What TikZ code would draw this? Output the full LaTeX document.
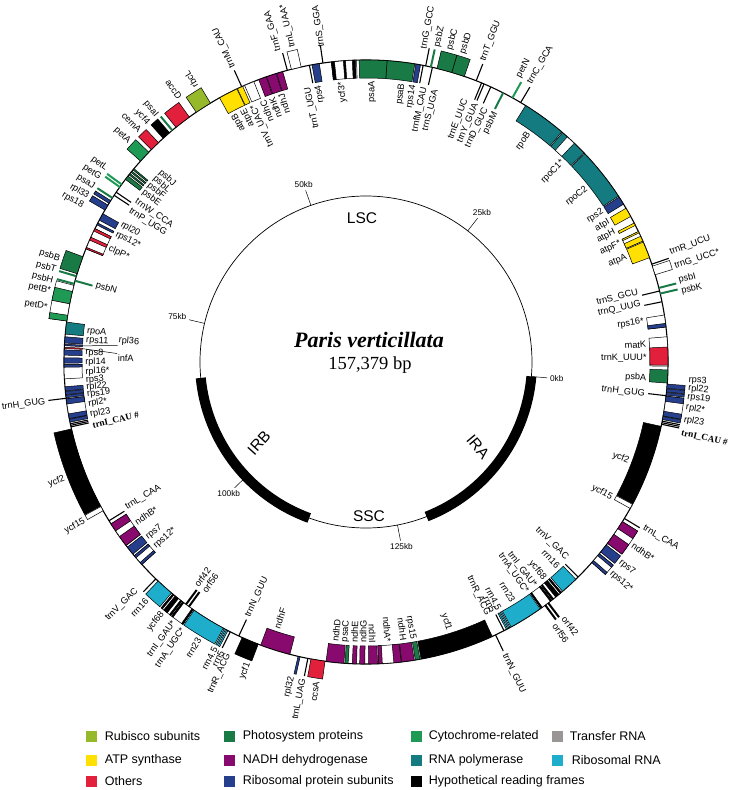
\documentclass[tikz,border=0pt]{standalone}
\usepackage{fontspec}
\setmainfont{Liberation Sans}
\newfontfamily\serifname{Liberation Serif}
\usepackage{tikz}
\usetikzlibrary{positioning}
\definecolor{rubisco}{HTML}{95B92A}
\definecolor{photosys}{HTML}{1A7A46}
\definecolor{cytochr}{HTML}{1E9A55}
\definecolor{trnagray}{HTML}{9A9696}
\definecolor{atpyel}{HTML}{FFE000}
\definecolor{ndhpurp}{HTML}{880A6E}
\definecolor{rpoteal}{HTML}{147B80}
\definecolor{rrncyan}{HTML}{1EADCB}
\definecolor{othred}{HTML}{E2203B}
\definecolor{ribblue}{HTML}{263F8C}

% ring geometry (pt, centre of the map at the origin)
\newcommand{\Rring}{302}
\newcommand{\Rbox}{18}
\newcommand{\IRc}{180.5}
\newcommand{\flipat}{123}
\newcommand{\lgap}{2.5}
\newcounter{glab}

% gene box: start angle, end angle, side (o/i), fill
\newcommand{\gbox}[4]{%
  \if#3o\pgfmathsetmacro{\rb}{\Rring+\Rbox}\else\pgfmathsetmacro{\rb}{\Rring-\Rbox}\fi
  \filldraw[genebox, fill=#4] (#1:\Rring pt) arc[start angle=#1, end angle=#2, radius=\Rring pt]
    -- (#2:\rb pt) arc[start angle=#2, end angle=#1, radius=\rb pt] -- cycle;}
% small gene / tRNA mark: angle, side, style
\newcommand{\gline}[3]{%
  \if#2o\pgfmathsetmacro{\rb}{\Rring+\Rbox}\else\pgfmathsetmacro{\rb}{\Rring-\Rbox}\fi
  \draw[geneline, #3] (#1:\Rring pt) -- (#1:\rb pt);}
% gene name: angle, side, text
\newcommand{\glabel}[3]{%
  \stepcounter{glab}%
  \pgfmathsetmacro{\la}{mod(#1+450,360)-90}%
  \pgfmathtruncatemacro{\fl}{(\la>\flipat) ? 1 : 0}%
  \if#2o\def\sd{0}\pgfmathsetmacro{\lr}{\Rring+\Rbox+\lgap}\else\def\sd{1}\pgfmathsetmacro{\lr}{\Rring-\Rbox-\lgap}\fi
  \pgfmathtruncatemacro{\an}{mod(\fl+\sd,2)}%
  \ifnum\an=0 \def\lanc{west}\else\def\lanc{east}\fi
  \node[genelabel, rotate=\la-180*\fl, anchor=\lanc] (g\arabic{glab}) at (\la:\lr pt) {#3};}
% inverted repeat: draw IRA copy and mirrored IRB copy
\newcommand{\irbox}[4]{\gbox{#1}{#2}{#3}{#4}%
  \pgfmathsetmacro{\ma}{\IRc-(#1)}\pgfmathsetmacro{\mb}{\IRc-(#2)}%
  \if#3o\gbox{\ma}{\mb}{i}{#4}\else\gbox{\ma}{\mb}{o}{#4}\fi}
\newcommand{\irline}[3]{\gline{#1}{#2}{#3}%
  \pgfmathsetmacro{\ma}{\IRc-(#1)}%
  \if#2o\gline{\ma}{i}{#3}\else\gline{\ma}{o}{#3}\fi}
\newcommand{\irlabel}[3]{\glabel{#1}{#2}{#3}%
  \pgfmathsetmacro{\ma}{\IRc-(#1)}%
  \if#2o\glabel{\ma}{i}{#3}\else\glabel{\ma}{o}{#3}\fi}

\begin{document}
\begin{tikzpicture}[
    x=1pt, y=1pt,
    ring/.style={line width=1.1pt},
    genebox/.style={draw=black, line width=0.5pt},
    geneline/.style={line width=1.1pt},
    smallgene/.style={line width=2pt, #1},
    genelabel/.style={font=\fontsize{9.2}{10}\selectfont, inner sep=0.6pt},
    leader/.style={line width=0.5pt},
    irarc/.style={line width=10pt},
    tickmark/.style={line width=0.5pt},
    ticklabel/.style={font=\fontsize{8.3}{9}\selectfont, inner sep=1.5pt},
    region/.style={font=\fontsize{15.5}{17}\selectfont},
    legsq/.style={minimum size=11pt, inner sep=0pt, fill=#1},
    legtext/.style={font=\fontsize{12.5}{14}\selectfont, inner sep=0pt},
  ]
  \useasboundingbox (-366,-428) rectangle (364,362);

  % =================== Inner circle ===================
  \draw[line width=0.7pt] (0,0) circle[radius=166pt];
  \draw[irarc] (-68.6:166pt) arc[start angle=-68.6, end angle=-5, radius=166pt];
  \draw[irarc] (185.5:166pt) arc[start angle=185.5, end angle=250, radius=166pt];
  \foreach \kb in {0,25,50,75,100,125} {
    \pgfmathsetmacro{\ka}{-5+\kb*2.287471}
    \pgfmathtruncatemacro{\kn}{mod(\ka+540,360)}
    \draw[tickmark] (\ka:166pt) -- (\ka:182pt);
    \node[ticklabel, anchor=\kn] (kb\kb) at (\ka:183pt) {\kb kb};
  }
  \node[region] (lsc) at (-4,144) {LSC};
  \node[region] (ssc) at (3,-154) {SSC};
  \node[region, rotate=-50] (ira) at (112,-85) {IRA};
  \node[region, rotate=48] (irb) at (-107,-81) {IRB};
  \node[font={\serifname\bfseries\itshape\fontsize{22}{26}\selectfont}] (species) at (3,22) {Paris verticillata};
  \node[font={\serifname\fontsize{18.5}{22}\selectfont}] (length) at (4,-3) {157,379 bp};

  % =================== Gene ring ===================
  \draw[ring] (0,0) circle[radius=\Rring pt];

  % ----- LSC: psbA -- trnR_UCU
  \gbox{-4.0}{-1.5}{i}{photosys} \glabel{-3.3}{i}{psbA}
  \gbox{-0.8}{4.8}{i}{white} \gbox{-0.6}{2.85}{i}{othred}
  \glabel{3.6}{i}{matK} \glabel{0.8}{i}{trnK\_UUU*}
  \gbox{6.65}{8.95}{i}{white} \gbox{6.65}{7.35}{i}{ribblue} \glabel{8.3}{i}{rps16*}
  \gline{11.5}{i}{black} \glabel{11.9}{i}{trnQ\_UUG}
  \gline{13.6}{i}{black} \glabel{14.4}{i}{trnS\_GCU}
  \gline{13.1}{o}{smallgene=photosys} \glabel{12.6}{o}{psbK}
  \gline{14.2}{o}{smallgene=photosys} \glabel{14.6}{o}{psbI}
  \gbox{16.8}{18.5}{o}{white} \glabel{17.2}{o}{trnG\_UCC*}
  \gline{18.9}{o}{black} \glabel{19.8}{o}{trnR\_UCU}

  % ----- atp operon, rps2, rpo genes
  \gbox{20.2}{23.4}{i}{atpyel} \glabel{21.9}{i}{atpA}
  \gbox{23.6}{25.6}{i}{white} \gbox{23.6}{24.6}{i}{atpyel} \gbox{25.3}{25.6}{i}{atpyel} \glabel{25.0}{i}{atpF*}
  \gbox{26.9}{27.4}{i}{atpyel} \glabel{27.6}{i}{atpH}
  \gbox{28.8}{30.6}{i}{atpyel} \glabel{30.0}{i}{atpI}
  \gbox{31.5}{33.1}{i}{ribblue} \glabel{32.5}{i}{rps2}
  \gbox{33.3}{43.6}{i}{rpoteal} \glabel{38.2}{i}{rpoC2}
  \gbox{43.8}{49.4}{i}{rpoteal} \gbox{46.4}{48.2}{i}{white} \glabel{45.5}{i}{rpoC1*}
  \gbox{49.6}{58.1}{i}{rpoteal} \glabel{54.5}{i}{rpoB}

  % ----- trnC_GCA -- trnG_GCC
  \gline{59.2}{o}{black} \glabel{59.6}{o}{trnC\_GCA}
  \gline{61.0}{o}{smallgene=cytochr} \glabel{61.8}{o}{petN}
  \gline{63.0}{i}{smallgene=photosys} \glabel{62.5}{i}{psbM}
  \gline{65.6}{i}{black} \glabel{64.7}{i}{trnD\_GUC}
  \gline{67.0}{i}{black} \glabel{66.9}{i}{trnY\_GUA}
  \gline{67.5}{i}{black} \glabel{69.2}{i}{trnE\_UUC}
  \gline{68.6}{o}{black} \glabel{68.8}{o}{trnT\_GGU}
  \gbox{71.0}{73.5}{o}{photosys} \glabel{72.6}{o}{psbD}
  \gbox{73.5}{76.4}{o}{photosys} \glabel{75.0}{o}{psbC}
  \gline{77.6}{o}{smallgene=photosys} \glabel{77.3}{o}{psbZ}
  \gline{78.6}{o}{black}
  {\renewcommand{\lgap}{-2.5}\glabel{79.5}{o}{trnG\_GCC}}

  % ----- trnS_UGA -- trnF_GAA
  \gline{77.3}{i}{black} \glabel{75.6}{i}{trnS\_UGA}
  \gline{79.1}{i}{black} \glabel{78.0}{i}{trnfM\_CAU}
  \gbox{79.6}{80.5}{i}{ribblue} \glabel{80.3}{i}{rps14}
  \gbox{80.7}{86.0}{i}{photosys} \glabel{82.6}{i}{psaB}
  \gbox{86.0}{91.3}{i}{photosys} \glabel{88.7}{i}{psaA}
  \gbox{91.8}{96.6}{i}{white} \gbox{92.0}{92.6}{i}{black} \gbox{93.9}{94.3}{i}{black} \gbox{96.0}{96.6}{i}{black}
  \glabel{95.0}{i}{ycf3*}
  \gline{98.2}{o}{black}
  {\renewcommand{\lgap}{-3}\glabel{98.0}{o}{trnS\_GGA}}
  \gbox{98.9}{100.3}{i}{ribblue} \glabel{99.8}{i}{rps4}
  \gline{100.8}{i}{black} \glabel{102.0}{i}{trnT\_UGU}
  \gbox{102.4}{104.3}{o}{white} \glabel{103.1}{o}{trnL\_UAA*}
  \gline{105.1}{o}{black} \glabel{105.7}{o}{trnF\_GAA}

  % ----- ndhJ -- petA
  \gbox{106.0}{107.2}{i}{ndhpurp} \glabel{107.6}{i}{ndhJ}
  \gbox{107.3}{109.2}{i}{ndhpurp} \glabel{109.6}{i}{ndhK}
  \gbox{109.3}{110.8}{i}{ndhpurp} \glabel{111.6}{i}{ndhC}
  \gbox{111.8}{113.7}{i}{white} \glabel{113.7}{i}{trnV\_UAC*}
  \gline{114.3}{o}{black} \glabel{114.3}{o}{trnM\_CAU}
  \gbox{114.1}{115.2}{i}{atpyel} \glabel{115.8}{i}{atpE}
  \gbox{115.3}{119.0}{i}{atpyel} \glabel{118.0}{i}{atpB}
  \gbox{121.0}{124.2}{o}{rubisco} \glabel{121.8}{o}{rbcL}
  \gbox{125.8}{129.0}{o}{othred} \glabel{125.2}{o}{accD}
  \gline{129.9}{o}{smallgene=photosys} \glabel{130.4}{o}{psaI}
  \gbox{130.6}{132.2}{o}{black} \glabel{132.4}{o}{ycf4}
  \gbox{133.4}{135.3}{o}{othred} \glabel{134.4}{o}{cemA}
  \gbox{136.0}{138.3}{o}{cytochr} \glabel{137.1}{o}{petA}

  % ----- psbJ -- clpP
  \gbox{140.2}{140.5}{i}{photosys} \gbox{140.8}{141.1}{i}{photosys}
  \gbox{141.4}{141.7}{i}{photosys} \gbox{142.0}{142.8}{i}{photosys}
  \glabel{137.2}{i}{psbJ} \glabel{139.0}{i}{psbL} \glabel{140.8}{i}{psbF} \glabel{142.6}{i}{psbE}
  \gline{144.0}{o}{smallgene=cytochr} \glabel{143.4}{o}{petL}
  \gline{144.6}{o}{smallgene=cytochr} \glabel{145.3}{o}{petG}
  \gline{145.8}{i}{black} \glabel{145.0}{i}{trnW\_CCA}
  \gline{146.5}{i}{black} \glabel{147.3}{i}{trnP\_UGG}
  \gline{147.1}{o}{smallgene=photosys} \glabel{147.3}{o}{psaJ}
  \gbox{147.7}{148.3}{o}{ribblue} \glabel{149.2}{o}{rpl33}
  \gbox{148.7}{149.8}{o}{ribblue} \glabel{151.1}{o}{rps18}
  \gbox{150.6}{152.0}{i}{ribblue} \glabel{150.6}{i}{rpl20}
  \gbox{152.6}{153.0}{i}{ribblue} \glabel{152.9}{i}{rps12*}
  \gbox{153.8}{158.0}{i}{white} \gbox{153.8}{154.3}{i}{othred} \gbox{155.6}{156.2}{i}{othred} \gbox{157.7}{158.0}{i}{othred}
  \glabel{156.2}{i}{clpP*}

  % ----- psbB -- rpl16
  \gbox{159.6}{163.0}{o}{photosys} \glabel{161.4}{o}{psbB}
  \gline{163.5}{o}{smallgene=photosys} \glabel{163.5}{o}{psbT}
  \gline{164.4}{i}{smallgene=photosys} \glabel{164.2}{i}{psbN}
  \gline{165.0}{o}{smallgene=photosys} \glabel{165.5}{o}{psbH}
  \gbox{165.3}{168.9}{o}{white} \gbox{166.5}{168.9}{o}{cytochr} \glabel{167.4}{o}{petB*}
  \gbox{168.9}{172.2}{o}{white} \gbox{171.1}{172.2}{o}{cytochr} \glabel{170.3}{o}{petD*}
  \gbox{172.4}{174.7}{i}{rpoteal} \glabel{173.7}{i}{rpoA}
  \gbox{175.2}{176.4}{i}{ribblue} \glabel{175.6}{i}{rps11}
  \gbox{176.6}{176.9}{i}{ribblue}
  \node[genelabel, rotate=-5, anchor=west] (grpl36) at (175.0:249pt) {rpl36};
  \draw[leader] (176.75:284pt) -- (grpl36.south west);
  \gbox{177.2}{177.45}{i}{othred}
  \node[genelabel, rotate=-1, anchor=west] (ginfA) at (179.0:249pt) {infA};
  \draw[leader] (177.3:284pt) -- (ginfA.north west);
  \gbox{177.7}{178.7}{i}{ribblue} \glabel{178.1}{i}{rps8}
  \gbox{179.2}{180.2}{i}{ribblue} \glabel{180.0}{i}{rpl14}
  \gbox{180.5}{183.2}{i}{white} \gbox{180.5}{181.0}{i}{ribblue} \glabel{182.0}{i}{rpl16*}

  % =================== Inverted repeats (IRA, mirrored to IRB) ===================
  \irbox{-4.2}{-5.0}{o}{ribblue} \irlabel{-3.2}{o}{rps3}
  \irbox{-5.1}{-5.7}{o}{ribblue} \irlabel{-4.7}{o}{rpl22}
  \irbox{-5.8}{-6.3}{o}{ribblue} \irlabel{-6.2}{o}{rps19}
  \irline{-6.4}{i}{black} \irlabel{-6.6}{i}{trnH\_GUG}
  \irbox{-6.5}{-10.3}{o}{white} \irbox{-6.5}{-7.5}{o}{ribblue} \irbox{-9.4}{-10.3}{o}{ribblue}
  \irlabel{-8.1}{o}{rpl2*}
  \irbox{-10.4}{-11.0}{o}{ribblue} \irlabel{-10.3}{o}{rpl23}
  \irline{-11.3}{o}{black} \irline{-11.6}{o}{black} \irline{-11.9}{o}{black}
  \irlabel{-12.7}{o}{{\serifname\bfseries trnI\_CAU \#}}
  \irbox{-12.3}{-28.0}{i}{black} \irlabel{-20.6}{i}{ycf2}
  \irbox{-28.1}{-29.0}{i}{white} \irlabel{-28.9}{i}{ycf15}
  \irline{-31.2}{o}{black} \irlabel{-30.8}{o}{trnL\_CAA}
  \irbox{-31.9}{-36.9}{o}{white} \irbox{-31.9}{-33.5}{o}{ndhpurp} \irbox{-34.8}{-36.9}{o}{ndhpurp}
  \irlabel{-34.4}{o}{ndhB*}
  \irbox{-37.3}{-39.0}{o}{ribblue} \irlabel{-38.2}{o}{rps7}
  \irbox{-39.4}{-41.6}{o}{white} \irbox{-39.4}{-39.9}{o}{ribblue} \irbox{-41.1}{-41.6}{o}{ribblue}
  \irlabel{-40.7}{o}{rps12*}
  \irline{-45.4}{i}{black} \irlabel{-44.3}{i}{trnV\_GAC}
  \irbox{-46.0}{-49.4}{i}{rrncyan} \irlabel{-46.8}{i}{rrn16}
  \irbox{-49.7}{-51.9}{i}{white} \irbox{-49.7}{-50.0}{i}{black} \irbox{-50.3}{-51.1}{i}{black} \irbox{-51.6}{-51.9}{i}{black}
  \irlabel{-50.5}{i}{ycf68} \irlabel{-53.1}{i}{trnI\_GAU*}
  \irbox{-52.1}{-54.6}{i}{white} \irbox{-52.1}{-52.4}{i}{black} \irbox{-54.3}{-54.6}{i}{black}
  \irlabel{-55.1}{i}{trnA\_UGC*}
  \irbox{-54.8}{-61.3}{i}{rrncyan} \irlabel{-58.4}{i}{rrn23}
  \irbox{-61.5}{-61.8}{i}{rrncyan} \irlabel{-61.7}{i}{rrn4.5}
  \irbox{-62.0}{-62.3}{i}{rrncyan} \irlabel{-63.0}{i}{rrn5}
  \irline{-62.8}{i}{black} \irlabel{-64.3}{i}{trnR\_ACG}
  \irline{-52.9}{o}{smallgene=black} \irlabel{-52.3}{o}{orf42}
  \irline{-53.6}{o}{smallgene=black} \irlabel{-54.3}{o}{orf56}
  \irline{-64.6}{o}{black} \irlabel{-64.6}{o}{trnN\_GUU}

  % =================== SSC ===================
  \gbox{-79.5}{-65.3}{i}{black} \glabel{-72.8}{i}{ycf1}
  \gbox{245.8}{249.1}{o}{black} \glabel{248.6}{o}{ycf1}
  \gbox{-80.6}{-79.7}{i}{photosys} \glabel{-80.4}{i}{rps15}
  \gbox{-83.2}{-80.8}{i}{ndhpurp} \glabel{-82.3}{i}{ndhH}
  \gbox{-87.6}{-83.3}{i}{white} \gbox{-84.7}{-83.3}{i}{ndhpurp} \gbox{-87.6}{-86.9}{i}{ndhpurp}
  \glabel{-85.5}{i}{ndhA*}
  \gbox{-89.5}{-87.8}{i}{ndhpurp} \glabel{-88.7}{i}{ndhI}
  \gbox{-91.2}{-90.2}{i}{ndhpurp} \glabel{-90.6}{i}{ndhG}
  \gbox{-92.6}{-91.8}{i}{ndhpurp} \glabel{-92.4}{i}{ndhE}
  \gbox{-94.0}{-93.4}{i}{photosys} \glabel{-94.3}{i}{psaC}
  \gbox{-97.6}{-94.2}{i}{ndhpurp} \glabel{-96.3}{i}{ndhD}
  \gbox{259.5}{262.2}{o}{othred} \glabel{261.2}{o}{ccsA}
  \gline{258.9}{o}{black} \glabel{258.8}{o}{trnL\_UAG}
  \gbox{257.0}{257.4}{o}{ribblue} \glabel{256.7}{o}{rpl32}
  \gbox{249.6}{255.4}{i}{ndhpurp} \glabel{251.5}{i}{ndhF}

  % =================== Legend ===================
  \node[legsq=rubisco] (sqrub) at (-274,-374) {};
  \node[legtext, right=7pt of sqrub] (ltrub) {Rubisco subunits};
  \node[legsq=photosys] (sqps) at (-136,-374) {};
  \node[legtext, right=7pt of sqps] (ltps) {Photosystem proteins};
  \node[legsq=cytochr] (sqcyt) at (50,-374) {};
  \node[legtext, right=7pt of sqcyt] (ltcyt) {Cytochrome-related};
  \node[legsq=trnagray] (sqtrna) at (191,-374) {};
  \node[legtext, right=7pt of sqtrna] (lttrna) {Transfer RNA};
  \node[legsq=atpyel] (sqatp) at (-274,-398) {};
  \node[legtext, right=7pt of sqatp] (ltatp) {ATP synthase};
  \node[legsq=ndhpurp] (sqndh) at (-136,-398) {};
  \node[legtext, right=7pt of sqndh] (ltndh) {NADH dehydrogenase};
  \node[legsq=rpoteal] (sqrpo) at (50,-398) {};
  \node[legtext, right=7pt of sqrpo] (ltrpo) {RNA polymerase};
  \node[legsq=rrncyan] (sqrrn) at (191,-398) {};
  \node[legtext, right=9pt of sqrrn] (ltrrn) {Ribosomal RNA};
  \node[legsq=othred] (sqoth) at (-274,-419) {};
  \node[legtext, right=7pt of sqoth] (ltoth) {Others};
  \node[legsq=ribblue] (sqrib) at (-136,-419) {};
  \node[legtext, right=7pt of sqrib] (ltrib) {Ribosomal protein subunits};
  \node[legsq=black] (sqhyp) at (50,-419) {};
  \node[legtext, right=7pt of sqhyp] (lthyp) {Hypothetical reading frames};

\end{tikzpicture}
\end{document}
